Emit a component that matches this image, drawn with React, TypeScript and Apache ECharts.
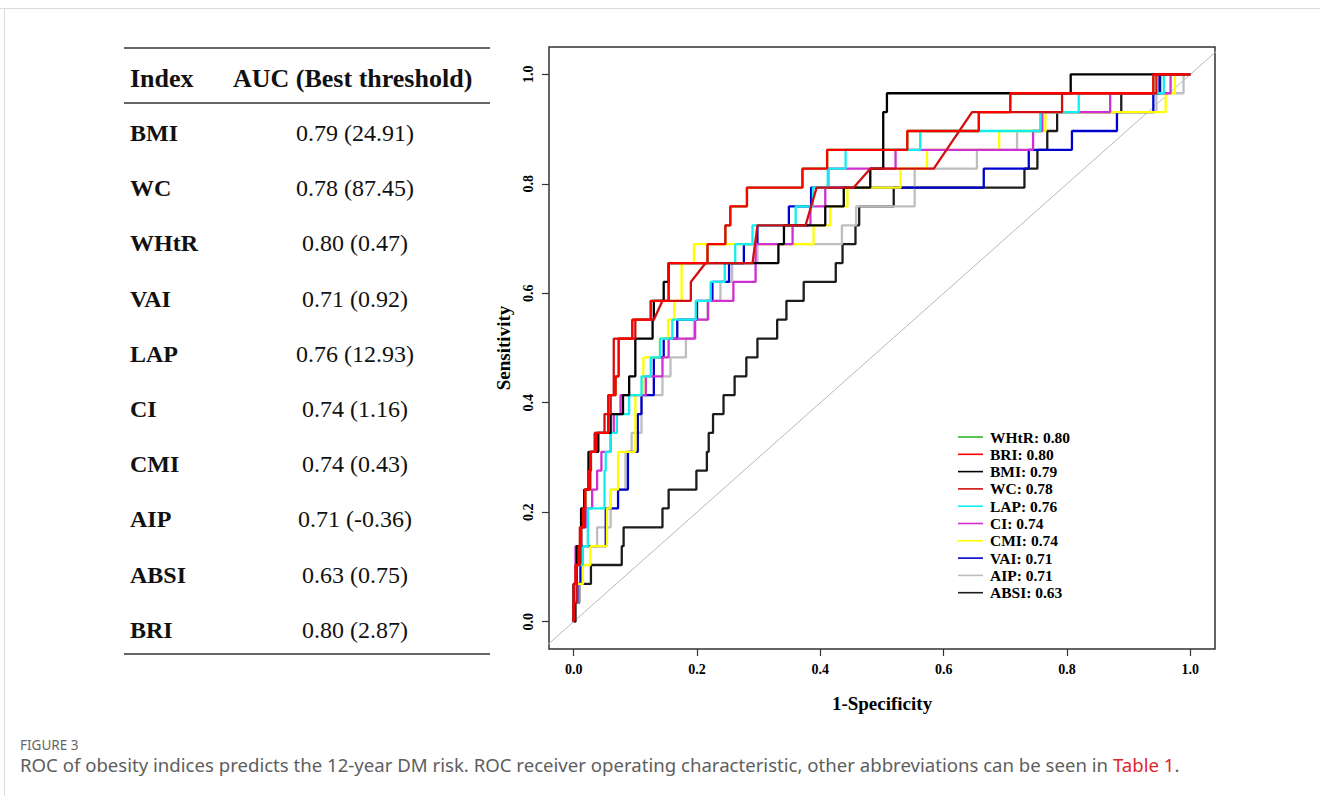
import React, { useEffect, useRef } from "react";
import * as echarts from "echarts";

// number of positive cases (sensitivity steps of 1/29)
const CASES = 29;

// Left table
const TABLE_HEADER = ["Index", "AUC (Best threshold)"];
const TABLE_INDEX = ["BMI", "WC", "WHtR", "VAI", "LAP", "CI", "CMI", "AIP", "ABSI", "BRI"];
const TABLE_AUC = [
  "0.79 (24.91)", "0.78 (87.45)", "0.80 (0.47)", "0.71 (0.92)", "0.76 (12.93)",
  "0.74 (1.16)", "0.74 (0.43)", "0.71 (-0.36)", "0.63 (0.75)", "0.80 (2.87)",
];

// Legend (in plot)
const LEGEND_NAMES = ["WHtR", "BRI", "BMI", "WC", "LAP", "CI", "CMI", "VAI", "AIP", "ABSI"];
const LEGEND_AUC = ["0.80", "0.80", "0.79", "0.78", "0.76", "0.74", "0.74", "0.71", "0.71", "0.63"];

const X_TICKS = [0, 0.2, 0.4, 0.6, 0.8, 1.0];
const Y_TICKS = [0, 0.2, 0.4, 0.6, 0.8, 1.0];

// ROC curves: [1-specificity, true positives] at each vertical step
const WHTR = [[0,0],[0,2],[0.003,3],[0.008,4],[0.012,5],[0.015,6],[0.019,7],[0.025,8],[0.028,9],[0.036,10],[0.056,12],[0.068,13],[0.073,15],[0.095,16],[0.125,17],[0.154,19],[0.217,20],[0.246,21],[0.254,22],[0.281,23],[0.371,24],[0.411,25],[0.541,26],[0.657,27],[0.708,28],[0.94,29],[1,29]];
const BRI = [[0,0],[0,2],[0.003,3],[0.008,4],[0.012,5],[0.015,6],[0.019,7],[0.025,8],[0.028,9],[0.036,10],[0.056,12],[0.068,13],[0.073,15],[0.095,16],[0.125,17],[0.154,19],[0.217,20],[0.246,21],[0.254,22],[0.281,23],[0.371,24],[0.411,25],[0.541,26],[0.657,27],[0.708,28],[0.94,29],[1,29]];
const BMI = [[0,0],[0,2],[0.005,4],[0.012,6],[0.017,7],[0.024,9],[0.04,10],[0.06,11],[0.08,12],[0.09,13],[0.1,15],[0.128,16],[0.13,17],[0.146,18],[0.154,19],[0.332,20],[0.341,21],[0.408,22],[0.438,23],[0.481,24],[0.502,27],[0.508,28],[0.806,29],[1,29]];
const LAP = [[0,0],[0,1],[0.005,3],[0.015,4],[0.023,6],[0.05,8],[0.052,9],[0.06,10],[0.07,11],[0.09,12],[0.11,13],[0.125,14],[0.14,15],[0.16,16],[0.198,17],[0.222,18],[0.245,19],[0.262,20],[0.29,21],[0.36,22],[0.388,23],[0.412,24],[0.441,25],[0.562,26],[0.757,27],[0.819,28],[0.957,29],[1,29]];
const CI = [[0,0],[0,2],[0.003,4],[0.012,5],[0.02,6],[0.03,7],[0.038,8],[0.045,9],[0.06,10],[0.065,11],[0.076,12],[0.117,13],[0.144,14],[0.154,15],[0.197,16],[0.218,17],[0.259,18],[0.295,20],[0.355,21],[0.384,22],[0.408,23],[0.413,24],[0.522,25],[0.745,26],[0.76,27],[0.87,28],[0.968,29],[1,29]];
const CMI = [[0,0],[0,1],[0.005,2],[0.015,3],[0.027,4],[0.054,6],[0.06,7],[0.072,9],[0.1,12],[0.113,14],[0.14,15],[0.153,16],[0.163,17],[0.175,19],[0.195,20],[0.389,21],[0.416,22],[0.444,23],[0.53,24],[0.573,25],[0.69,26],[0.765,27],[0.96,28],[0.975,29],[1,29]];
const VAI = [[0,0],[0,1],[0.006,2],[0.011,4],[0.052,6],[0.072,7],[0.088,9],[0.104,11],[0.11,12],[0.13,14],[0.146,15],[0.168,16],[0.2,17],[0.225,18],[0.252,19],[0.276,20],[0.298,21],[0.349,22],[0.385,23],[0.665,24],[0.738,25],[0.808,26],[0.881,27],[0.94,28],[0.95,29],[1,29]];
const AIP = [[0,0],[0,1],[0.008,2],[0.014,4],[0.038,5],[0.06,7],[0.084,9],[0.094,10],[0.11,12],[0.144,13],[0.157,14],[0.182,15],[0.195,16],[0.217,17],[0.238,18],[0.257,19],[0.298,20],[0.435,21],[0.458,22],[0.553,24],[0.654,25],[0.719,26],[0.757,27],[0.945,28],[0.989,29],[1,29]];
const ABSI = [[0,0],[0.003,1],[0.009,2],[0.028,3],[0.078,4],[0.081,5],[0.144,6],[0.154,7],[0.199,8],[0.216,9],[0.219,10],[0.226,11],[0.243,12],[0.261,13],[0.28,14],[0.298,15],[0.33,16],[0.345,17],[0.373,18],[0.425,19],[0.436,20],[0.457,21],[0.463,22],[0.519,23],[0.731,24],[0.752,25],[0.768,26],[0.784,27],[0.888,28],[0.951,29],[1,29]];
// WC has tied values: explicit vertices (incl. diagonal segments)
const WC = [[0,0],[0,1],[0.005,1],[0.005,3],[0.01,3],[0.01,5],[0.018,5],[0.018,7],[0.027,7],[0.027,9],[0.034,9],[0.034,10],[0.05,10],[0.05,11],[0.06,11],[0.06,12],[0.065,12],[0.065,15],[0.1,15],[0.1,16],[0.13,16],[0.144,17],[0.19,17],[0.19,18],[0.214,19],[0.29,19],[0.298,21],[0.376,21],[0.394,23],[0.454,23],[0.481,24],[0.584,24],[0.646,27],[0.792,27],[0.792,28],[0.945,28],[0.945,29],[1,29]];

const DIAGONAL = [[-0.1, -0.1], [1.2, 1.2]];

const COLORS: Record<string, string> = {
  WHtR: "#2db82d",
  BRI: "#ff0000",
  BMI: "#000000",
  WC: "#d01010",
  LAP: "#11eeee",
  CI: "#d030d0",
  CMI: "#ffff00",
  VAI: "#0000cd",
  AIP: "#bebebe",
  ABSI: "#1c1c1c",
};

const CAPTION_LABEL = "FIGURE 3";
const CAPTION_TEXT = "ROC of obesity indices predicts the 12-year DM risk. ROC receiver operating characteristic, other abbreviations can be seen in ";
const CAPTION_LINK = "Table 1";

const SERIF = "'Liberation Serif', 'Times New Roman', serif";
const SANS = "'Noto Sans', sans-serif";

function toSens(points: number[][]) {
  return points.map(([x, k]) => [x, k / CASES]);
}

function label(name: string) {
  return name + ": " + LEGEND_AUC[LEGEND_NAMES.indexOf(name)];
}

export default function App() {
  const ref = useRef<HTMLDivElement>(null);

  useEffect(() => {
    if (!ref.current) return;
    const chart = echarts.init(ref.current, null, { renderer: "svg" });

    const curves: [string, number[][], boolean][] = [
      ["WHtR", WHTR, true],
      ["ABSI", ABSI, true],
      ["AIP", AIP, true],
      ["VAI", VAI, true],
      ["CMI", CMI, true],
      ["CI", CI, true],
      ["LAP", LAP, true],
      ["BMI", BMI, true],
      ["WC", WC, false],
      ["BRI", BRI, true],
    ];

    const series: any[] = [
      {
        type: "line",
        name: "diag",
        data: DIAGONAL,
        showSymbol: false,
        silent: true,
        clip: true,
        lineStyle: { color: "#b8b8b8", width: 1 },
      },
      ...curves.map(([name, pts, stepped]) => ({
        type: "line",
        name: label(name),
        data: toSens(pts),
        step: stepped ? "end" : false,
        showSymbol: false,
        clip: true,
        color: COLORS[name],
        lineStyle: { color: COLORS[name], width: 2.3 },
      })),
    ];

    const txt = (x: number, y: number, text: string, font: string, align: string, fill = "#111") => ({
      type: "text", x, y,
      style: { text, font, fill, align, verticalAlign: "middle", textAlign: align, textVerticalAlign: "middle" },
    });

    const graphics: any[] = [];
    // page frame lines
    graphics.push({ type: "line", shape: { x1: 0, y1: 8.5, x2: 1320, y2: 8.5 }, style: { stroke: "#dcdcdc", lineWidth: 1 } });
    graphics.push({ type: "line", shape: { x1: 4.5, y1: 8, x2: 4.5, y2: 796 }, style: { stroke: "#dcdcdc", lineWidth: 1 } });
    // table rules
    [48, 103, 654].forEach((y) => {
      graphics.push({ type: "line", shape: { x1: 124, y1: y, x2: 490, y2: y }, style: { stroke: "#333", lineWidth: 1.5 } });
    });
    graphics.push(txt(130, 78, TABLE_HEADER[0], "bold 26px " + SERIF, "left"));
    graphics.push(txt(233, 78, TABLE_HEADER[1], "bold 26px " + SERIF, "left"));
    TABLE_INDEX.forEach((name, i) => {
      const y = 133 + i * 55.2;
      graphics.push(txt(130, y, name, "bold 24px " + SERIF, "left"));
      graphics.push(txt(355, y, TABLE_AUC[i], "24px " + SERIF, "center"));
    });
    // caption
    graphics.push(txt(20, 745, CAPTION_LABEL, "13.5px " + SANS, "left", "#666"));
    graphics.push({
      type: "text", x: 20, y: 764,
      style: {
        text: "{a|" + CAPTION_TEXT + "}{b|" + CAPTION_LINK + "}{a|.}",
        align: "left", verticalAlign: "middle", textAlign: "left", textVerticalAlign: "middle",
        rich: {
          a: { fill: "#5e5e5e", color: "#5e5e5e", fontSize: 18.6, fontFamily: SANS },
          b: { fill: "#e0262e", color: "#e0262e", fontSize: 18.6, fontFamily: SANS },
        },
      },
    });

    const axisFont = { fontFamily: SERIF, fontWeight: "bold" as const, color: "#000" };

    chart.setOption({
      animation: false,
      backgroundColor: "#fff",
      grid: {
        left: 549, top: 47, width: 666, height: 602,
        show: true, borderColor: "#333", borderWidth: 1.5, backgroundColor: "transparent",
      },
      xAxis: {
        type: "value", min: -0.04, max: 1.04,
        axisLine: { show: false, onZero: false },
        splitLine: { show: false },
        axisTick: { show: true, customValues: X_TICKS, length: 7, lineStyle: { color: "#333", width: 1.2 } },
        axisLabel: { customValues: X_TICKS, formatter: (v: number) => v.toFixed(1), fontSize: 14, margin: 13, ...axisFont },
        name: "1-Specificity", nameLocation: "middle", nameGap: 45,
        nameTextStyle: { fontSize: 19, ...axisFont },
      },
      yAxis: {
        type: "value", min: -0.05, max: 1.05,
        axisLine: { show: false, onZero: false },
        splitLine: { show: false },
        axisTick: { show: true, customValues: Y_TICKS, length: 7, lineStyle: { color: "#333", width: 1.2 } },
        axisLabel: { customValues: Y_TICKS, formatter: (v: number) => v.toFixed(1), fontSize: 14, margin: 14, rotate: 90, ...axisFont },
        name: "Sensitivity", nameLocation: "middle", nameGap: 35, nameRotate: 90,
        nameTextStyle: { fontSize: 19, ...axisFont },
      },
      legend: {
        data: LEGEND_NAMES.map((n) => label(n)),
        orient: "vertical",
        left: 953, top: 424,
        icon: "rect",
        itemWidth: 25, itemHeight: 1.6,
        itemGap: 1.3,
        selectedMode: false,
        textStyle: { fontFamily: SERIF, fontWeight: "bold", fontSize: 15.5, lineHeight: 14, color: "#000", padding: [0, 0, 0, 2] },
      },
      series,
      graphic: { elements: graphics },
    });

    return () => chart.dispose();
  }, []);

  return (
    <div
      ref={ref}
      style={{ position: "absolute", left: 0, top: 0, width: 1320, height: 796 }}
    />
  );
}
